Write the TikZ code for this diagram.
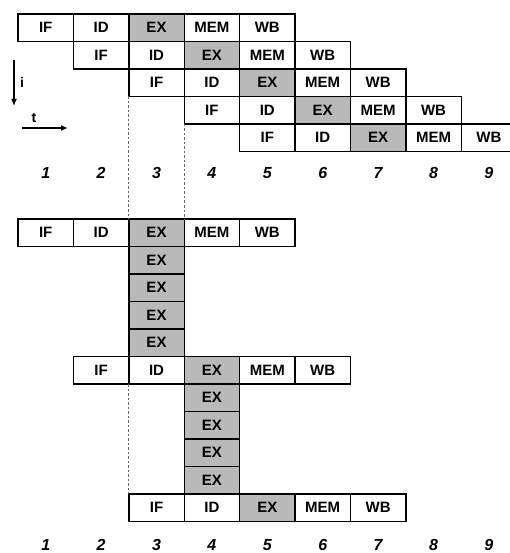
\documentclass[tikz,border=0pt]{standalone}
\usepackage{fontspec}
\setmainfont{Liberation Sans}
\usetikzlibrary{arrows.meta}
\begin{document}
\begin{tikzpicture}[x=1pt,y=-1pt,
  cell/.style={draw=black, line width=1.4pt, minimum width=55.4pt, minimum height=27.5pt,
    inner sep=0pt, outer sep=0pt, anchor=north west, font=\bfseries\fontsize{15}{15}\selectfont},
  exc/.style={cell, fill=gray!55},
  st-IF/.style={cell}, st-ID/.style={cell}, st-EX/.style={exc}, st-MEM/.style={cell}, st-WB/.style={cell},
  num/.style={font=\bfseries\itshape\fontsize{16}{16}\selectfont, inner sep=0pt},
  guide/.style={draw=gray!80!black, line width=0.8pt, dash pattern=on 2.5pt off 2pt},
  axis/.style={line width=1.6pt, -{Latex[length=7pt,width=6pt]}},
  lab/.style={font=\bfseries\fontsize{14}{14}\selectfont, inner sep=0pt}]
\useasboundingbox (0,0) rectangle (510,553);
% upper pipeline
\foreach \r in {1,...,5}{
  \foreach \s [count=\j from 0] in {IF,ID,EX,MEM,WB}{
    \pgfmathsetmacro\xx{18+(\r+\j-1)*55.4}
    \pgfmathsetmacro\yy{14+(\r-1)*27.5}
    \node[st-\s] (t\r-\s) at (\xx,\yy) {\s};
  }}
% lower: row A
\foreach \s [count=\j from 0] in {IF,ID,EX,MEM,WB}{
  \pgfmathsetmacro\xx{18+\j*55.4}
  \node[st-\s] (a-\s) at (\xx,219) {\s};
}
\foreach \k in {1,...,4}{
  \pgfmathsetmacro\yy{219+\k*27.5}
  \node[exc] (a-EX\k) at (128.8,\yy) {EX};
}
% row B
\foreach \s [count=\j from 1] in {IF,ID,EX,MEM,WB}{
  \pgfmathsetmacro\xx{18+\j*55.4}
  \node[st-\s] (b-\s) at (\xx,356.5) {\s};
}
\foreach \k in {1,...,4}{
  \pgfmathsetmacro\yy{356.5+\k*27.5}
  \node[exc] (b-EX\k) at (184.2,\yy) {EX};
}
% row C
\foreach \s [count=\j from 2] in {IF,ID,EX,MEM,WB}{
  \pgfmathsetmacro\xx{18+\j*55.4}
  \node[st-\s] (c-\s) at (\xx,494) {\s};
}
% dashed guides
\draw[guide] (t3-IF.south west) -- (a-EX.north west);
\draw[guide] (t4-IF.south west) -- (a-EX.north east);
\draw[guide] (b-IF.south east) -- (c-IF.north west);
% cycle numbers
\foreach \k in {1,...,9}{
  \pgfmathsetmacro\xx{18+(\k-0.5)*55.4}
  \node[num] (n\k) at (\xx,173) {\k};
  \node[num] (m\k) at (\xx,545) {\k};
}
% axes
\coordinate (iS) at (14,60);
\coordinate (iE) at (14,106);
\draw[axis] (iS) -- (iE);
\node[lab] (ilab) at (22,82) {i};
\coordinate (tS) at (22,128);
\coordinate (tE) at (68,128);
\draw[axis] (tS) -- (tE);
\node[lab] (tlab) at (34,118) {t};
\end{tikzpicture}
\end{document}
